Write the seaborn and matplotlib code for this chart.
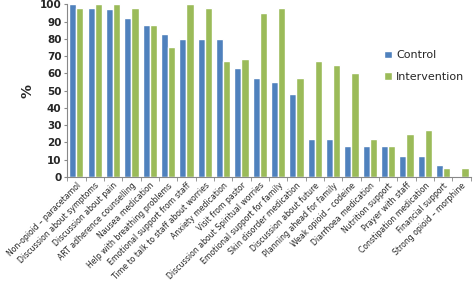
import pandas as pd
import numpy as np
import matplotlib
matplotlib.use('Agg')
import matplotlib.pyplot as plt
import seaborn as sns

categories = ["Non-opioid \u2013 paracetamol", "Discussion about symptoms", "Discussion about pain",
              "ART adherence counselling", "Nausea medication", "Help with breathing problems",
              "Emotional support from staff", "Time to talk to staff about worries", "Anxiety medication",
              "Visit from pastor", "Discussion about Spiritual worries", "Emotional support for family",
              "Skin disorder medication", "Discussion about future", "Planning ahead for family",
              "Weak opioid \u2013 codeine", "Diarrhoea medication", "Nutrition support",
              "Prayer with staff", "Constipation medication", "Financial support",
              "Strong opioid \u2013 morphine"]
control = [100, 98, 97, 92, 88, 83, 80, 80, 80, 63, 57, 55, 48, 22, 22, 18, 18, 18, 12, 12, 7, 0]
intervention = [98, 100, 100, 98, 88, 75, 100, 98, 67, 68, 95, 98, 57, 67, 65, 60, 22, 18, 25, 27, 5, 5]

df = pd.DataFrame({
    "item": categories * 2,
    "group": ["Control"] * len(categories) + ["Intervention"] * len(categories),
    "pct": control + intervention,
})

sns.set_style("white")
plt.rcParams['font.family'] = ['DejaVu Sans']

fig, ax = plt.subplots(figsize=(4.73, 2.83), dpi=100)
sns.barplot(data=df, x="item", y="pct", hue="group", order=categories,
            palette={"Control": "#4F81BD", "Intervention": "#9BBB59"},
            width=0.78, saturation=1, ax=ax)

ax.set_ylim(0, 100)
ax.set_yticks(range(0, 101, 10))
ax.set_xlim(-0.5, len(categories) - 0.5)
ax.set_xlabel("")
ax.set_ylabel("%", fontsize=10, fontweight='bold')
ax.tick_params(axis='y', labelsize=7.5, length=2, pad=2)
for t in ax.get_yticklabels():
    t.set_fontweight('bold')
ax.set_xticks(range(len(categories)))
ax.set_xticklabels(categories, rotation=45, ha='right', rotation_mode='anchor', fontsize=5.6)
ax.tick_params(axis='x', length=0, pad=3)
ax.set_xticks(np.arange(-0.5, len(categories)), minor=True)
ax.tick_params(axis='x', which='minor', length=3, color='#888888', direction='out', bottom=True)
sns.despine(ax=ax)
for s in ['left', 'bottom']:
    ax.spines[s].set_color('#888888')
    ax.spines[s].set_linewidth(0.8)
ax.tick_params(axis='y', color='#888888', left=True)

leg = ax.legend(loc='upper left', bbox_to_anchor=(0.76, 0.79), frameon=False,
                fontsize=8, handlelength=0.7, handleheight=0.7, labelspacing=1.0, handletextpad=0.4)

plt.subplots_adjust(left=0.142, right=0.995, top=0.985, bottom=0.375)
plt.savefig("out.png", dpi=100)
